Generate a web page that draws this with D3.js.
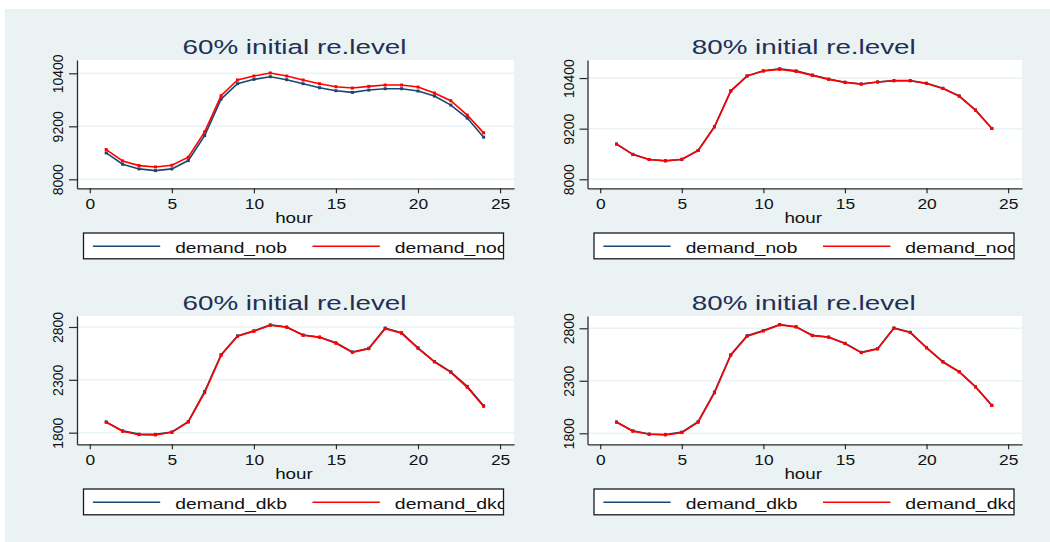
<!DOCTYPE html>
<html>
<head>
<meta charset="utf-8">
<script src="https://cdn.jsdelivr.net/npm/d3@7"></script>
<style>
  body { margin: 0; background: #fff; }
  text { font-family: "Liberation Sans", Arial, sans-serif; }
</style>
</head>
<body>
<div id="chart"></div>
<script>
// hours on the x axis
const hours = [1, 2, 3, 4, 5, 6, 7, 8, 9, 10, 11, 12, 13, 14, 15, 16, 17, 18, 19, 20, 21, 22, 23, 24]
const xTicks = [0, 5, 10, 15, 20, 25]

// top row: demand_nob / demand_noc
const nob60 = [8598, 8341, 8235, 8197, 8235, 8424, 8992, 9817, 10165, 10264, 10324, 10256, 10165, 10074, 10006, 9968, 10021, 10052, 10052, 9999, 9885, 9681, 9386, 8954]
const noc60 = [8674, 8416, 8310, 8280, 8318, 8500, 9075, 9893, 10249, 10339, 10408, 10339, 10249, 10165, 10097, 10067, 10105, 10135, 10135, 10090, 9953, 9779, 9454, 9052]
const nob80 = [8836, 8592, 8470, 8440, 8470, 8683, 9245, 10095, 10452, 10572, 10622, 10570, 10472, 10376, 10302, 10260, 10308, 10338, 10338, 10276, 10156, 9974, 9642, 9206]
const noc80 = [8832, 8586, 8467, 8436, 8475, 8681, 9243, 10091, 10447, 10566, 10606, 10558, 10463, 10368, 10297, 10257, 10305, 10336, 10336, 10273, 10154, 9972, 9639, 9204]
const yTicksNo = [8000, 9200, 10400]

// bottom row: demand_dkb / demand_dkc
const dkb60 = [1902, 1817, 1786, 1784, 1806, 1904, 2190, 2538, 2716, 2764, 2820, 2800, 2724, 2705, 2650, 2564, 2599, 2790, 2746, 2603, 2473, 2376, 2238, 2055]
const dkc60 = [1898, 1813, 1781, 1778, 1803, 1901, 2179, 2532, 2712, 2759, 2816, 2797, 2721, 2702, 2646, 2560, 2595, 2784, 2740, 2598, 2469, 2371, 2229, 2049]
const dkb80 = [1908, 1823, 1793, 1789, 1811, 1910, 2192, 2548, 2730, 2778, 2836, 2815, 2733, 2717, 2657, 2571, 2606, 2803, 2762, 2616, 2482, 2387, 2244, 2067]
const dkc80 = [1905, 1819, 1790, 1784, 1806, 1905, 2184, 2543, 2724, 2775, 2832, 2813, 2730, 2714, 2654, 2568, 2603, 2800, 2759, 2613, 2479, 2384, 2241, 2064]
const yTicksDk = [1800, 2300, 2800]

const titles = ["60% initial re.level", "80% initial re.level"]

const BLUE = "#1a476f", RED = "#ff0000", BG = "#eaf2f3"

const panels = [
  {row: 0, col: 0, b: nob60, c: noc60, names: ["demand_nob", "demand_noc"], ticks: yTicksNo, ydom: [7796, 10702]},
  {row: 0, col: 1, b: nob80, c: noc80, names: ["demand_nob", "demand_noc"], ticks: yTicksNo, ydom: [7786, 10828]},
  {row: 1, col: 0, b: dkb60, c: dkc60, names: ["demand_dkb", "demand_dkc"], ticks: yTicksDk, ydom: [1690, 2904]},
  {row: 1, col: 1, b: dkb80, c: dkc80, names: ["demand_dkb", "demand_dkc"], ticks: yTicksDk, ydom: [1695, 2917]}
]

// layout of the plot regions
const colX = [77, 587.5], colW = [437, 434.5]
const rowY = [60, 316], plotH = 128.3

const svg = d3.select("#chart").append("svg")
  .attr("width", 1050).attr("height", 542)

svg.append("rect").attr("x", 5).attr("y", 9).attr("width", 1045).attr("height", 533).attr("fill", BG)

// stretch text horizontally to a target width
function fitWidth(sel, w) {
  sel.attr("textLength", w).attr("lengthAdjust", "spacingAndGlyphs")
}
function stretch(sel, k) {
  sel.each(function() {
    const w = this.getComputedTextLength()
    this.setAttribute("textLength", w * k)
    this.setAttribute("lengthAdjust", "spacingAndGlyphs")
  })
}

panels.forEach(function(p, i) {
  const x0 = colX[p.col], w = colW[p.col]
  const y0 = rowY[p.row], h = plotH
  const g = svg.append("g").attr("transform", "translate(" + x0 + "," + y0 + ")")

  const xScale = d3.scaleLinear().domain([-0.78, 25.85]).range([0, w])
  const yScale = d3.scaleLinear().domain(p.ydom).range([h, 0])

  g.append("rect").attr("width", w).attr("height", h).attr("fill", "#fff")

  // grid
  g.selectAll(".grid").data(p.ticks).enter().append("line")
    .attr("x1", 0).attr("x2", w)
    .attr("y1", d => yScale(d)).attr("y2", d => yScale(d))
    .attr("stroke", BG).attr("stroke-width", 1.5)

  // axes
  const yAxis = d3.axisLeft(yScale).tickValues(p.ticks).tickFormat(d3.format("d"))
    .tickSize(8).tickSizeOuter(0)
  const xAxis = d3.axisBottom(xScale).tickValues(xTicks).tickFormat(d3.format("d"))
    .tickSize(5).tickSizeOuter(0)

  const ya = g.append("g").call(yAxis)
  ya.select(".domain").attr("stroke", "#2b2b2b").attr("stroke-width", 1.3)
  ya.selectAll(".tick line").attr("stroke", "#2b2b2b").attr("stroke-width", 1.2)
  ya.selectAll(".tick text")
    .attr("x", 0).attr("y", -14).attr("dy", null)
    .attr("transform", "rotate(-90)")
    .attr("text-anchor", "middle")
    .attr("font-size", 14).attr("fill", "#111")
    .attr("font-family", "'Liberation Sans', Arial, sans-serif")

  const xa = g.append("g").attr("transform", "translate(0," + h + ")").call(xAxis)
  xa.select(".domain").attr("stroke", "#2b2b2b").attr("stroke-width", 1.3)
  xa.selectAll(".tick line").attr("stroke", "#2b2b2b").attr("stroke-width", 1.2)
  xa.selectAll(".tick text")
    .attr("y", 21).attr("dy", null)
    .attr("font-size", 14.5).attr("fill", "#111")
    .attr("font-family", "'Liberation Sans', Arial, sans-serif")
    .call(stretch, 1.2)

  // lines
  const line = d3.line().x((d, j) => xScale(hours[j])).y(d => yScale(d))
  ;[[p.b, BLUE], [p.c, RED]].forEach(function(s) {
    g.append("path").datum(s[0]).attr("d", line)
      .attr("fill", "none").attr("stroke", s[1]).attr("stroke-width", 1.6)
    g.selectAll(null).data(s[0]).enter().append("rect")
      .attr("x", (d, j) => xScale(hours[j]) - 1.5)
      .attr("y", d => yScale(d) - 1.5)
      .attr("width", 3).attr("height", 3)
      .attr("fill", s[1])
  })

  // title
  g.append("text").attr("x", w / 2 - 1).attr("y", -5.7)
    .attr("text-anchor", "middle").attr("font-size", 20.5).attr("fill", "#1f2f55")
    .text(titles[p.col]).call(fitWidth, 224)

  // x title
  g.append("text").attr("x", w / 2 - 1.5).attr("y", h + 35)
    .attr("text-anchor", "middle").attr("font-size", 15).attr("fill", "#111")
    .text("hour").call(fitWidth, 37.7)

  // legend
  const lx = 6.5, ly = h + 44.7, lw = 420, lh = 25.8
  const clipId = "lgclip" + i
  g.append("clipPath").attr("id", clipId).append("rect")
    .attr("x", lx).attr("y", ly).attr("width", lw).attr("height", lh)
  const lg = g.append("g")
  lg.append("rect").attr("x", lx).attr("y", ly).attr("width", lw).attr("height", lh).attr("fill", "#fff")
  const inner = lg.append("g").attr("clip-path", "url(#" + clipId + ")")
  ;[[BLUE, 0], [RED, 219.6]].forEach(function(s, k) {
    inner.append("line")
      .attr("x1", lx + 9.4 + s[1]).attr("x2", lx + 76.7 + s[1])
      .attr("y1", ly + 13.3).attr("y2", ly + 13.3)
      .attr("stroke", s[0]).attr("stroke-width", 1.6)
    inner.append("text")
      .attr("x", lx + 91.7 + s[1]).attr("y", ly + 19.6)
      .attr("font-size", 15).attr("fill", "#111")
      .text(p.names[k]).call(fitWidth, 111.7)
  })
  lg.append("rect").attr("x", lx).attr("y", ly).attr("width", lw).attr("height", lh)
    .attr("fill", "none").attr("stroke", "#1a1a1a").attr("stroke-width", 1.3)
})
</script>
</body>
</html>
